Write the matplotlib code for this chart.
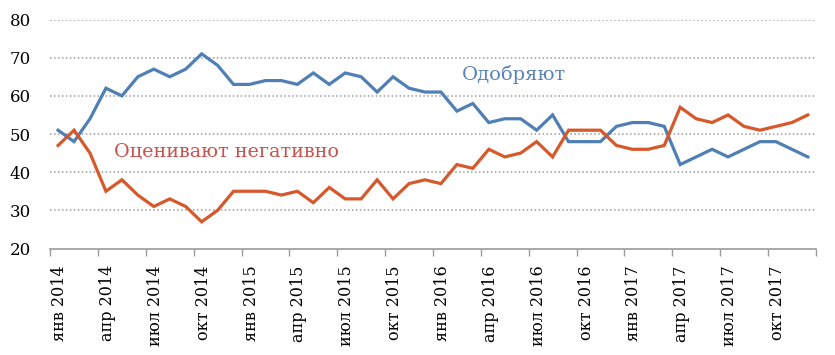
#!/usr/bin/env python3
# -*- coding: utf-8 -*-
"""
Approval vs. negative assessment, monthly, Jan 2014 - Dec 2017.

Usage:
    python3 plot.py
"""

import matplotlib
matplotlib.use("Agg")
import matplotlib.pyplot as plt
from matplotlib.ticker import FixedLocator, NullFormatter

# Monthly values, янв 2014 .. дек 2017 (48 months)
approve = [
    51, 48, 54, 62, 60, 65, 67, 65, 67, 71, 68, 63,
    63, 64, 64, 63, 66, 63, 66, 65, 61, 65, 62, 61,
    61, 56, 58, 53, 54, 54, 51, 55, 48, 48, 48, 52,
    53, 53, 52, 42, 44, 46, 44, 46, 48, 48, 46, 44,
]
negative = [
    47, 51, 45, 35, 38, 34, 31, 33, 31, 27, 30, 35,
    35, 35, 34, 35, 32, 36, 33, 33, 38, 33, 37, 38,
    37, 42, 41, 46, 44, 45, 48, 44, 51, 51, 51, 47,
    46, 46, 47, 57, 54, 53, 55, 52, 51, 52, 53, 55,
]
month_names = ["янв", "апр", "июл", "окт"]
years = [2014, 2015, 2016, 2017]
tick_labels = [f"{m} {y}" for y in years for m in month_names]

series_labels = ["Одобряют", "Оценивают негативно"]

BLUE = "#4f7fb4"
ORANGE = "#d7582b"
BLUE_TEXT = "#5a84b6"
RED_TEXT = "#c9504c"
GRID = "#9a9a9a"
FONT = ["DejaVu Serif"]


def plot_chart(output_path: str):
    """Draw the two series with the Excel-like category axis"""
    plt.rcParams["font.family"] = FONT

    fig = plt.figure(figsize=(8.35, 3.55), dpi=100)
    ax = fig.add_axes([0.060, 0.300, 0.917, 0.645])

    x = range(len(approve))
    ax.plot(x, approve, color=BLUE, linewidth=2.3, solid_joinstyle="miter")
    ax.plot(x, negative, color=ORANGE, linewidth=2.3, solid_joinstyle="miter")

    ax.set_xlim(-0.5, len(approve) - 0.5)
    ax.set_ylim(20, 80)
    ax.set_yticks(range(20, 81, 10))
    ax.tick_params(axis="y", length=0, labelsize=12, pad=14)

    # dotted gridlines above the baseline
    for v in range(30, 81, 10):
        ax.axhline(v, color=GRID, linestyle=(0, (1, 1.6)), linewidth=1.1, zorder=0)

    # tick marks between categories, labels at every third month
    boundaries = [i - 0.5 for i in range(0, len(approve) + 1, 3)]
    ax.xaxis.set_major_locator(FixedLocator(boundaries))
    ax.xaxis.set_major_formatter(NullFormatter())
    ax.tick_params(axis="x", which="major", length=5, color=GRID, width=1)
    ax.set_xticks([i * 3 + 0.1 for i in range(len(tick_labels))], minor=True)
    ax.set_xticklabels(tick_labels, minor=True, rotation=90, fontsize=11.5)
    ax.tick_params(axis="x", which="minor", length=0, pad=12)

    for side in ["top", "right", "left"]:
        ax.spines[side].set_visible(False)
    ax.spines["bottom"].set_color(GRID)
    ax.spines["bottom"].set_linewidth(1.2)

    ax.text(25.3, 65.6, series_labels[0], color=BLUE_TEXT, fontsize=14,
            va="center", ha="left")
    ax.text(3.5, 45.5, series_labels[1], color=RED_TEXT, fontsize=13.8,
            va="center", ha="left")

    fig.savefig(output_path, dpi=100)
    plt.close(fig)


def main():
    plot_chart("out.png")


if __name__ == "__main__":
    main()
